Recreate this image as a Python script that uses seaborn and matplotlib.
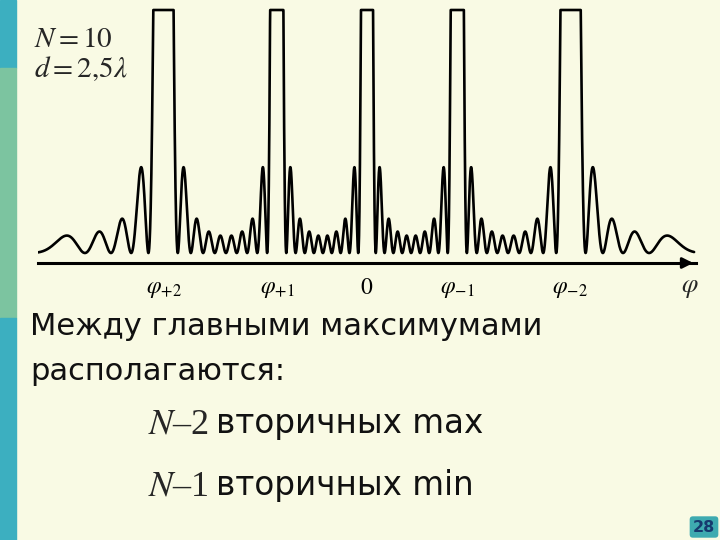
import numpy as np
import matplotlib
matplotlib.use('Agg')
import matplotlib.pyplot as plt
import seaborn as sns
from matplotlib.patches import Rectangle

# values given on the slide
N = 10                # number of slits
d_over_lambda = 2.5   # d = 2,5 lambda
phi_min, phi_max = -86, 85.5   # degrees shown on the axis
clip_level = 14.3     # principal maxima are cut off at the top

orders = [-2, -1, 0, 1, 2]
tick_labels = [r'$\varphi_{+2}$', r'$\varphi_{+1}$', r'$0$', r'$\varphi_{-1}$', r'$\varphi_{-2}$']

bg = '#f9fae4'

# grating intensity sin^2(N v) / sin^2(v)
phi = np.linspace(phi_min, phi_max, 8000)
v = np.pi * d_over_lambda * np.sin(np.radians(phi))
s2 = np.sin(v) ** 2
inten = np.divide(np.sin(N * v) ** 2, s2, out=np.full_like(v, N ** 2), where=s2 > 1e-12)
inten = np.minimum(inten, clip_level)
df = {'phi': phi, 'I': inten}
tick_pos = np.degrees(np.arcsin(np.array(orders) / d_over_lambda))

sns.set_style('white')
plt.rcParams['font.family'] = ['DejaVu Sans']
plt.rcParams['mathtext.fontset'] = 'stix'

fig = plt.figure(figsize=(7.2, 5.4), dpi=100, facecolor=bg)

# coloured strip on the left
W, H = 720, 540
fig.patches.append(Rectangle((0, 1 - 68 / H), 16 / W, 68 / H, transform=fig.transFigure, color='#3cafc0', zorder=0))
fig.patches.append(Rectangle((0, 1 - 318 / H), 16 / W, 250 / H, transform=fig.transFigure, color='#7cc4a0', zorder=0))
fig.patches.append(Rectangle((0, 0), 16 / W, 1 - 318 / H, transform=fig.transFigure, color='#3cafc0', zorder=0))

ax = fig.add_axes([38 / W, 1 - 263 / H, (696 - 38) / W, (263 - 8) / H])
ax.set_facecolor(bg)
sns.lineplot(x=df['phi'], y=df['I'], color='black', linewidth=1.9, estimator=None, sort=False, ax=ax)

ppu = (253 - 10) / clip_level
ax.set_ylim(-10 / ppu, clip_level + 2 / ppu)
ax.set_xlim(-86, 86)
for sp in ['top', 'left', 'right']:
    ax.spines[sp].set_visible(False)
ax.spines['bottom'].set_linewidth(2.2)
ax.spines['bottom'].set_color('black')
ax.set_yticks([])
ax.set_xticks(tick_pos)
ax.set_xticklabels(tick_labels, fontsize=17)
ax.tick_params(axis='x', direction='out', length=6, width=1.2, pad=3, colors='black')
ax.set_xlabel('')
ax.set_ylabel('')
ax.annotate('', xy=(1.0, 0), xytext=(0.975, 0), xycoords='axes fraction',
            arrowprops=dict(arrowstyle='-|>', color='black', lw=2, mutation_scale=16),
            annotation_clip=False)

fig.text(690 / W, 1 - 292 / H, r'$\varphi$', fontsize=19, ha='center', va='baseline')

fig.text(34 / W, 1 - 47 / H, r'$N = 10$', fontsize=21, va='baseline')
fig.text(34 / W, 1 - 77 / H, r'$d = 2{,}5\lambda$', fontsize=21, va='baseline')

fig.text(30 / W, 1 - 335 / H, 'Между главными максимумами', fontsize=22, va='baseline', color='#111111')
fig.text(30 / W, 1 - 380 / H, 'располагаются:', fontsize=22, va='baseline', color='#111111')

fig.text(148 / W, 1 - 433 / H, r'$N$–2', fontsize=26, va='baseline', family='Liberation Serif')
fig.text(216 / W, 1 - 433 / H, 'вторичных max', fontsize=23.5, va='baseline', color='#111111')
fig.text(148 / W, 1 - 495 / H, r'$N$–1', fontsize=26, va='baseline', family='Liberation Serif')
fig.text(216 / W, 1 - 495 / H, 'вторичных min', fontsize=23.5, va='baseline', color='#111111')

fig.text(704 / W, 1 - 527 / H, '28', fontsize=11.5, fontweight='bold', color='#163a6e',
         ha='center', va='center',
         bbox=dict(boxstyle='round,pad=0.2', facecolor='#3eaab0', edgecolor='none'))

fig.savefig('out.png', dpi=100, facecolor=bg)
